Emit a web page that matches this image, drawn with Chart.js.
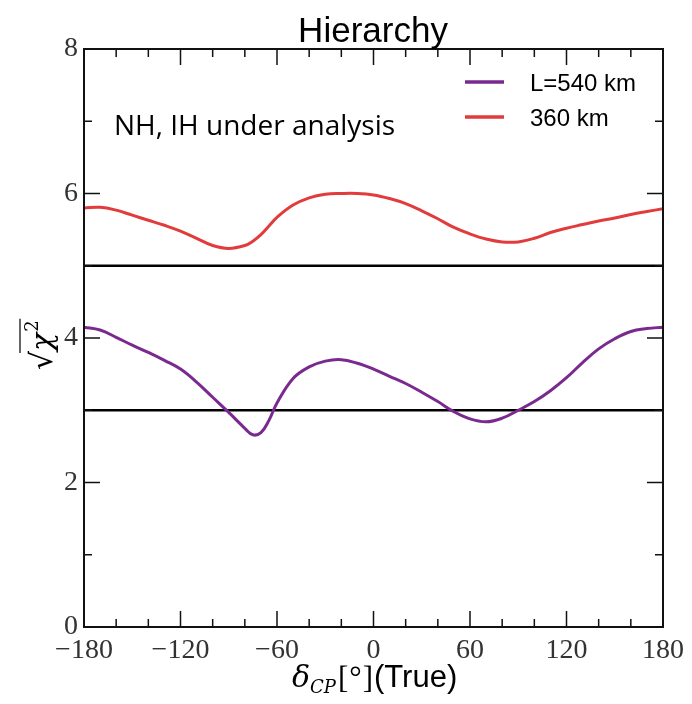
<!DOCTYPE html>
<html>
<head>
<meta charset="utf-8">
<script src="https://cdn.jsdelivr.net/npm/chart.js@4/dist/chart.umd.min.js"></script>
<style>
  html, body { margin: 0; padding: 0; background: #fff; }
  #wrap { width: 692px; height: 704px; }
</style>
</head>
<body>
<div id="wrap"><canvas id="chi"></canvas></div>
<script>
// delta_CP (true), degrees
var deltaCP = [-180, -170, -160, -150, -140, -130, -120, -110, -100, -90, -80, -75, -70, -65, -60,
  -50, -40, -30, -20, -10, 0, 10, 20, 30, 40, 50, 60, 70, 80, 90, 100, 110, 120, 130, 140, 150, 160, 170, 180];
// sqrt(chi^2), L = 540 km
var chi540 = [4.15, 4.11, 4.01, 3.90, 3.80, 3.69, 3.57, 3.39, 3.18, 2.97, 2.75, 2.66, 2.69, 2.86, 3.10,
  3.44, 3.60, 3.68, 3.70, 3.65, 3.57, 3.47, 3.37, 3.25, 3.12, 2.98, 2.88, 2.84, 2.89, 3.00, 3.12, 3.27, 3.45, 3.66, 3.85, 3.99, 4.09, 4.13, 4.15];
// sqrt(chi^2), L = 360 km
var chi360 = [5.80, 5.81, 5.77, 5.70, 5.63, 5.56, 5.48, 5.38, 5.28, 5.24, 5.28, 5.34, 5.43, 5.55, 5.67,
  5.84, 5.94, 5.99, 6.00, 6.00, 5.98, 5.93, 5.86, 5.76, 5.65, 5.53, 5.44, 5.37, 5.33, 5.33, 5.38, 5.46, 5.52, 5.57, 5.62, 5.66, 5.71, 5.75, 5.79];
var refLevels = [3, 5];
var xTicks = [-180, -120, -60, 0, 60, 120, 180];
var yTicks = [0, 2, 4, 6, 8];
var seriesNames = ['L=540 km', '360 km'];

var purple = '#7a2a8e', red = '#e23b3b';

function pts(xs, ys) {
  return xs.map(function (x, i) { return { x: x, y: ys[i] }; });
}

var datasets = [
  { label: seriesNames[0], data: pts(deltaCP, chi540), borderColor: purple, borderWidth: 3, pointRadius: 0, tension: 0.4 },
  { label: seriesNames[1], data: pts(deltaCP, chi360), borderColor: red, borderWidth: 3, pointRadius: 0, tension: 0.4 }
];
refLevels.forEach(function (v) {
  datasets.push({ label: 'ref' + v, data: [{ x: -180, y: v }, { x: 180, y: v }], borderColor: '#000', borderWidth: 2.5, pointRadius: 0 });
});

// frame, inside ticks, legend and texts
var decor = {
  id: 'decor',
  afterDraw: function (chart) {
    var c = chart.ctx, a = chart.chartArea, sx = chart.scales.x, sy = chart.scales.y;
    c.save();
    c.strokeStyle = '#111';
    c.lineWidth = 2;
    c.strokeRect(a.left, a.top, a.right - a.left, a.bottom - a.top);
    c.lineWidth = 1.5;
    c.beginPath();
    for (var d = -180; d <= 180; d += 20) {
      var px = sx.getPixelForValue(d), len = (d % 60 === 0) ? 16 : 8;
      c.moveTo(px, a.bottom); c.lineTo(px, a.bottom - len);
      c.moveTo(px, a.top); c.lineTo(px, a.top + len);
    }
    for (var v = 0; v <= 8; v += 1) {
      var py = sy.getPixelForValue(v), l2 = (v % 2 === 0) ? 16 : 8;
      c.moveTo(a.left, py); c.lineTo(a.left + l2, py);
      c.moveTo(a.right, py); c.lineTo(a.right - l2, py);
    }
    c.stroke();

    // title
    c.fillStyle = '#000';
    c.textAlign = 'center';
    c.textBaseline = 'alphabetic';
    c.font = '35px "Liberation Sans", Arial, sans-serif';
    c.fillText('Hierarchy', 373, 42);

    // annotation
    c.textAlign = 'left';
    c.font = '28px "Open Sans", "Noto Sans", sans-serif';
    c.fillText('NH, IH under analysis', 114, 135);

    // legend
    var ly = [82, 117], cols = [purple, red];
    c.font = '24px "Liberation Sans", Arial, sans-serif';
    for (var i = 0; i < 2; i++) {
      c.strokeStyle = cols[i];
      c.lineWidth = 3.5;
      c.beginPath(); c.moveTo(465, ly[i]); c.lineTo(504, ly[i]); c.stroke();
      c.fillStyle = '#000';
      c.textBaseline = 'alphabetic';
      c.fillText(seriesNames[i], 530, ly[i] + 9);
    }

    // x title: delta_CP[deg](True)
    c.textBaseline = 'alphabetic';
    var x0 = 292, base = 687;
    c.font = 'italic 30px "DejaVu Serif", serif';
    c.fillText('δ', x0, base);
    x0 += c.measureText('δ').width;
    c.font = 'italic 18px "DejaVu Serif", serif';
    c.fillText('CP', x0, base + 6);
    x0 += c.measureText('CP').width + 2;
    c.font = '31px "Liberation Serif", serif';
    c.fillText('[', x0, base + 1);
    x0 += c.measureText('[').width + 1;
    c.fillText('°', x0, base + 1);
    x0 += c.measureText('°').width + 1;
    c.fillText(']', x0, base + 1);
    x0 += c.measureText(']').width + 1;
    c.font = '31px "Liberation Sans", Arial, sans-serif';
    c.fillText('(True)', x0, base);

    // y title: sqrt(chi^2)
    c.translate(42, 340);
    c.rotate(-Math.PI / 2);
    c.font = '30px "DejaVu Serif", serif';
    c.textAlign = 'left';
    c.fillText('√', -30, 10);
    var w = c.measureText('√').width;
    c.font = 'italic 30px "DejaVu Serif", serif';
    c.fillText('χ', -30 + w, 10);
    var wc = c.measureText('χ').width;
    c.font = '18px "DejaVu Serif", serif';
    c.fillText('2', -30 + w + wc + 1, -4);
    c.lineWidth = 1.5;
    c.strokeStyle = '#333';
    c.beginPath(); c.moveTo(-30 + w - 2, -22); c.lineTo(-30 + w + wc + 14, -22); c.stroke();
    c.restore();
  }
};

new Chart(document.getElementById('chi'), {
  type: 'line',
  data: { datasets: datasets },
  options: {
    responsive: true,
    maintainAspectRatio: false,
    animation: false,
    layout: { padding: { top: 49, right: 29, left: 0, bottom: 0 } },
    plugins: { legend: { display: false }, tooltip: { enabled: false } },
    scales: {
      x: {
        type: 'linear', min: -180, max: 180,
        afterBuildTicks: function (ax) { ax.ticks = xTicks.map(function (v) { return { value: v }; }); },
        afterFit: function (ax) { ax.height = 704 - 627; },
        grid: { display: false, drawTicks: false },
        border: { display: false },
        ticks: {
          padding: 7, color: '#333',
          font: { family: '"Liberation Serif", serif', size: 28 },
          callback: function (v) { return String(v).replace('-', '\u2212'); }
        }
      },
      y: {
        min: 0, max: 8,
        afterBuildTicks: function (ax) { ax.ticks = yTicks.map(function (v) { return { value: v }; }); },
        afterFit: function (ax) { ax.width = 84; },
        grid: { display: false, drawTicks: false },
        border: { display: false },
        ticks: {
          padding: 6, color: '#333',
          font: { family: '"Liberation Serif", serif', size: 28 }
        }
      }
    }
  },
  plugins: [decor]
});
</script>
</body>
</html>
